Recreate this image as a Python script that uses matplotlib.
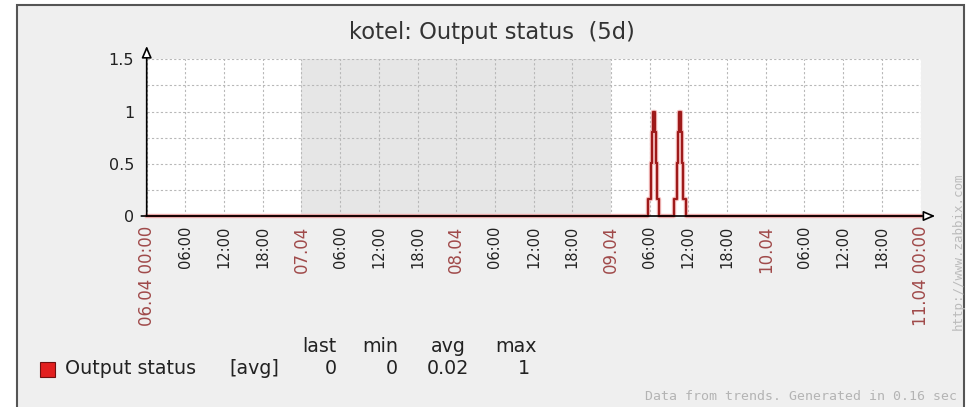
import matplotlib
matplotlib.use("Agg")
import matplotlib.pyplot as plt
from matplotlib.patches import Rectangle

# data: hours since 06.04 00:00, step values (avg)
times_h = [0, 77.79, 78.21, 78.41, 78.57, 78.78, 78.94, 79.14, 79.49,
           81.82, 82.24, 82.44, 82.60, 82.81, 82.97, 83.17, 83.56, 120]
values = [0, 0.16, 0.51, 0.80, 1.00, 0.80, 0.51, 0.16, 0,
          0.16, 0.51, 0.80, 1.00, 0.80, 0.51, 0.16, 0, 0]

tick_hours = list(range(0, 121, 6))
tick_labels = ['06.04 00:00', '06:00', '12:00', '18:00',
               '07.04', '06:00', '12:00', '18:00',
               '08.04', '06:00', '12:00', '18:00',
               '09.04', '06:00', '12:00', '18:00',
               '10.04', '06:00', '12:00', '18:00',
               '11.04 00:00']
weekend = (24, 72)

ytick_vals = [0, 0.5, 1, 1.5]
ytick_labels = ['0', '0.5', '1', '1.5']

legend_name = 'Output status'
legend_func = '[avg]'
stat_names = ['last', 'min', 'avg', 'max']
stat_values = ['0', '0', '0.02', '1']

W, H = 972, 407
def fx(px):
    return px / W
def fy(py):
    return 1 - py / H

fig = plt.figure(figsize=(W / 100, H / 100), dpi=100)
fig.patch.set_facecolor('white')

# outer frame
fig.patches.append(Rectangle((fx(17), fy(420)), (964 - 17) / W, (420 - 5) / H,
                             transform=fig.transFigure, fc='#efefef', ec='#555555',
                             lw=1.5, zorder=-5))

x0, x1, ytop, ybot = 146.7, 920.5, 59.3, 216
ax = fig.add_axes([fx(x0), fy(ybot), (x1 - x0) / W, (ybot - ytop) / H])
ax.set_facecolor('white')
ax.set_xlim(0, 120)
ax.set_ylim(0, 1.5)
for s in ax.spines.values():
    s.set_visible(False)

ax.axvspan(weekend[0], weekend[1], color='#e6e6e6', lw=0, zorder=0.1)

ax.set_axisbelow(True)
ax.set_yticks(ytick_vals)
ax.set_yticklabels(ytick_labels)
ax.set_yticks([0.25, 0.75, 1.25], minor=True)
ax.set_xticks(tick_hours)
ax.set_xticklabels(tick_labels, rotation=90)
ax.grid(which='both', color='#b8b8b8', linestyle=(0, (2, 2)), lw=0.8)
ax.tick_params(axis='y', which='both', length=0, pad=9, labelsize=11.5, labelcolor='#222222')
ax.tick_params(axis='x', length=0, pad=7)
for lab in ax.get_xticklabels():
    if '.' in lab.get_text():
        lab.set_color('#a04a4a')
        lab.set_fontsize(12)
    else:
        lab.set_color('#222222')
        lab.set_fontsize(10.5)

# series
ax.plot(times_h, values, drawstyle='steps-post', color='#f3bcbc', lw=3.2,
        clip_on=False, zorder=3)
ax.plot(times_h, values, drawstyle='steps-post', color='#9e1a1a', lw=1.6,
        clip_on=False, zorder=4)

# axes with arrows
arr = dict(arrowstyle='-|>,head_length=0.7,head_width=0.3', fc='white', ec='black',
           lw=1.2, shrinkA=0, shrinkB=0)
ax.annotate('', xy=(0, 1.085), xycoords='axes fraction', xytext=(0, 0),
            textcoords='axes fraction', arrowprops=arr, zorder=6)
ax.annotate('', xy=(1.019, 0), xycoords='axes fraction', xytext=(-0.007, 0),
            textcoords='axes fraction', arrowprops=arr, zorder=6)

fig.text(fx(492), fy(33), 'kotel: Output status  (5d)', ha='center', va='center',
         fontsize=16.3, color='#333333')

# legend
fig.patches.append(Rectangle((fx(40), fy(377)), 15 / W, 15 / H, transform=fig.transFigure,
                             fc='#e21f1f', ec='#701010', lw=0.8))
fig.text(fx(65), fy(369), legend_name, ha='left', va='center', fontsize=13.7, color='#222222')
fig.text(fx(229), fy(369), legend_func, ha='left', va='center', fontsize=13.7, color='#222222')
head_x = [336, 398, 466, 537]
val_x = [337, 398, 469, 530]
for name, hx in zip(stat_names, head_x):
    fig.text(fx(hx), fy(347), name, ha='right', va='center', fontsize=13.7, color='#222222')
for v, vx in zip(stat_values, val_x):
    fig.text(fx(vx), fy(369), v, ha='right', va='center', fontsize=13.7, color='#222222')

fig.text(fx(957), fy(397), 'Data from trends. Generated in 0.16 sec', ha='right',
         va='center', family='DejaVu Sans Mono', fontsize=9.5, color='#b4b4b4')
fig.text(fx(958), fy(251), 'http://www.zabbix.com', rotation=90, ha='center',
         va='center', family='DejaVu Sans Mono', fontsize=9, color='#bbbbbb')

fig.savefig('out.png', dpi=100)
